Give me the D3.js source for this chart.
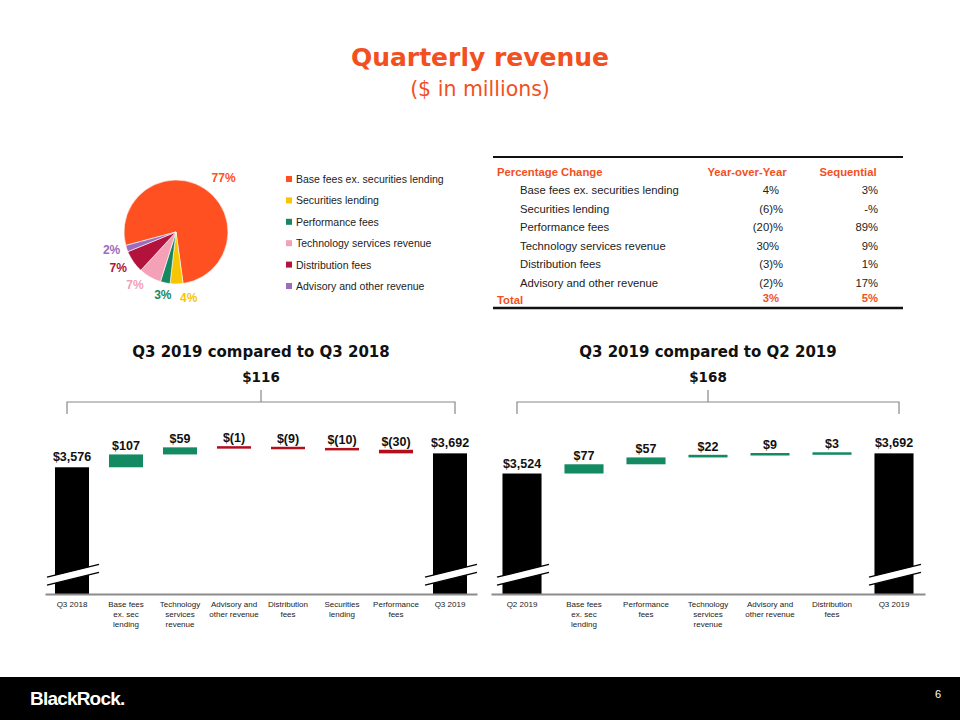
<!DOCTYPE html>
<html>
<head>
<meta charset="utf-8">
<script src="https://cdn.jsdelivr.net/npm/d3@7"></script>
<style>
  html, body { margin: 0; padding: 0; background: #fff; }
  svg { display: block; }
</style>
</head>
<body>
<svg id="chart" width="960" height="720"></svg>
<script>
// ---------------- DATA ----------------
const pieLabels = ["Base fees ex. securities lending", "Securities lending", "Performance fees",
  "Technology services revenue", "Distribution fees", "Advisory and other revenue"];
const pieValues = [77, 4, 3, 7, 7, 2];

const tableRowLabels = ["Base fees ex. securities lending", "Securities lending", "Performance fees",
  "Technology services revenue", "Distribution fees", "Advisory and other revenue"];
const tableYoY = ["4%", "(6)%", "(20)%", "30%", "(3)%", "(2)%"];
const tableSeq = ["3%", "-%", "89%", "9%", "1%", "17%"];
const tableTotalYoY = "3%";
const tableTotalSeq = "5%";

const wf1Categories = [["Q3 2018"], ["Base fees", "ex. sec", "lending"], ["Technology", "services", "revenue"],
  ["Advisory and", "other revenue"], ["Distribution", "fees"], ["Securities", "lending"], ["Performance", "fees"], ["Q3 2019"]];
const wf1Values = [3576, 107, 59, -1, -9, -10, -30, 3692];
const wf1IsTotal = [true, false, false, false, false, false, false, true];
const wf1Change = 116;

const wf2Categories = [["Q2 2019"], ["Base fees", "ex. sec", "lending"], ["Performance", "fees"],
  ["Technology", "services", "revenue"], ["Advisory and", "other revenue"], ["Distribution", "fees"], ["Q3 2019"]];
const wf2Values = [3524, 77, 57, 22, 9, 3, 3692];
const wf2IsTotal = [true, false, false, false, false, false, true];
const wf2Change = 168;

// ---------------- STYLE ----------------
const ORANGE = "#f2501f";
const pieColors = ["#ff5021", "#f7c600", "#17875f", "#f4a0b7", "#b3123c", "#9c6cbd"];
const pieLabelNudge = [[10, 3], [12, -2], [1, -4], [-7, -6], [-2, -3], [0, -4]];
const GREEN = "#138a61";
const RED = "#b10f1c";

const svg = d3.select("#chart");

// Titles
svg.append("text").attr("x", 480).attr("y", 66).attr("text-anchor", "middle")
  .attr("font-family", "DejaVu Sans").attr("font-weight", "bold").attr("font-size", 25)
  .attr("fill", ORANGE).text("Quarterly revenue");
svg.append("text").attr("x", 480).attr("y", 96).attr("text-anchor", "middle")
  .attr("font-family", "DejaVu Sans").attr("font-size", 20.5)
  .attr("fill", ORANGE).text("($ in millions)");

// ---------------- PIE ----------------
const pieG = svg.append("g").attr("transform", "translate(176,232)");
const deg = Math.PI / 180;
const pie = d3.pie().sort(null).value(d => d).startAngle(-105 * deg).endAngle(255 * deg);
const arcs = pie(pieValues);
const arc = d3.arc().innerRadius(0).outerRadius(52);
const labelArc = d3.arc().innerRadius(68).outerRadius(68);
pieG.selectAll("path.slice").data(arcs).enter().append("path")
  .attr("d", arc).attr("fill", (d, i) => pieColors[i])
  .attr("stroke", "#fff").attr("stroke-width", 0.6);
pieG.selectAll("text.plab").data(arcs).enter().append("text")
  .attr("transform", (d, i) => {
    const c = labelArc.centroid(d);
    return `translate(${c[0] + pieLabelNudge[i][0]},${c[1] + pieLabelNudge[i][1]})`;
  })
  .attr("text-anchor", "middle").attr("dominant-baseline", "central")
  .attr("font-family", "Liberation Sans, Arial").attr("font-weight", "bold").attr("font-size", 12)
  .attr("fill", (d, i) => pieColors[i])
  .text(d => d.data + "%");

// legend
const legG = svg.append("g");
const legY = d3.scalePoint().domain(pieLabels).range([179, 286]);
pieLabels.forEach((lab, i) => {
  legG.append("rect").attr("x", 286).attr("y", legY(lab) - 3).attr("width", 6).attr("height", 6)
    .attr("fill", pieColors[i]);
  legG.append("text").attr("x", 296).attr("y", legY(lab)).attr("dominant-baseline", "central")
    .attr("font-family", "Liberation Sans, Arial").attr("font-size", 10.5).attr("fill", "#222").text(lab);
});

// ---------------- TABLE ----------------
const tG = svg.append("g").attr("font-family", "Liberation Sans, Arial").attr("font-size", 11.3);
tG.append("line").attr("x1", 493).attr("x2", 903).attr("y1", 157).attr("y2", 157)
  .attr("stroke", "#111").attr("stroke-width", 2);
tG.append("line").attr("x1", 493).attr("x2", 903).attr("y1", 308).attr("y2", 308)
  .attr("stroke", "#111").attr("stroke-width", 2.5);
const hdr = (x, t, anchor) => tG.append("text").attr("x", x).attr("y", 172).attr("text-anchor", anchor)
  .attr("dominant-baseline", "central").attr("font-weight", "bold").attr("fill", ORANGE).text(t);
hdr(497, "Percentage Change", "start");
hdr(747, "Year-over-Year", "middle");
hdr(848, "Sequential", "middle");
const rowY = d3.scalePoint().domain(d3.range(tableRowLabels.length)).range([190, 283]);
tableRowLabels.forEach((lab, i) => {
  const y = rowY(i);
  tG.append("text").attr("x", 520).attr("y", y).attr("dominant-baseline", "central").attr("fill", "#222").text(lab);
  tG.append("text").attr("x", tableYoY[i].includes(")") ? 783 : 779).attr("y", y).attr("text-anchor", "end")
    .attr("dominant-baseline", "central").attr("fill", "#222").text(tableYoY[i]);
  tG.append("text").attr("x", 878).attr("y", y).attr("text-anchor", "end")
    .attr("dominant-baseline", "central").attr("fill", "#222").text(tableSeq[i]);
});
tG.append("text").attr("x", 497).attr("y", 300).attr("dominant-baseline", "central")
  .attr("font-weight", "bold").attr("fill", ORANGE).text("Total");
tG.append("text").attr("x", 779).attr("y", 298).attr("text-anchor", "end").attr("dominant-baseline", "central")
  .attr("font-weight", "bold").attr("fill", ORANGE).text(tableTotalYoY);
tG.append("text").attr("x", 878).attr("y", 298).attr("text-anchor", "end").attr("dominant-baseline", "central")
  .attr("font-weight", "bold").attr("fill", ORANGE).text(tableTotalSeq);

// ---------------- WATERFALLS ----------------
const yScale = d3.scaleLinear().domain([2520, 3800]).range([594, 594 - 1280 * 0.12]);
const fmt = v => v < 0 ? "$(" + d3.format(",")(-v) + ")" : "$" + d3.format(",")(v);

function waterfall(cats, vals, isTotal, change, range, title) {
  const g = svg.append("g");
  const keys = cats.map((c, i) => i);
  const x = d3.scaleBand().domain(keys).range(range).paddingInner(0.37).paddingOuter(0.185);
  const bw = x.bandwidth();
  let run = 0;
  const bars = vals.map((v, i) => {
    let lo, hi;
    if (isTotal[i]) { lo = yScale.domain()[0]; hi = v; run = v; }
    else { const prev = run; run = run + v; lo = Math.min(prev, run); hi = Math.max(prev, run); }
    return { i, v, lo, hi, total: isTotal[i] };
  });
  const mid = (range[0] + range[1]) / 2;
  // title
  g.append("text").attr("x", mid).attr("y", 357).attr("text-anchor", "middle")
    .attr("font-family", "DejaVu Sans").attr("font-weight", "bold").attr("font-size", 15).attr("fill", "#111").text(title);
  g.append("text").attr("x", mid).attr("y", 382).attr("text-anchor", "middle")
    .attr("font-family", "DejaVu Sans").attr("font-weight", "bold").attr("font-size", 13.5).attr("fill", "#111").text(fmt(change));
  // bracket
  const bx1 = x(0) + bw / 2 - 5, bx2 = x(keys.length - 1) + bw / 2 + 5, bm = (bx1 + bx2) / 2;
  g.append("path").attr("d", `M${bx1},414V402H${bx2}V414M${bm},402V390`)
    .attr("fill", "none").attr("stroke", "#888").attr("stroke-width", 1.2);
  // bars
  g.selectAll("rect.bar").data(bars).enter().append("rect")
    .attr("x", d => x(d.i)).attr("width", bw)
    .attr("y", d => d.total ? yScale(d.hi) : Math.min(yScale(d.hi), (yScale(d.hi) + yScale(d.lo)) / 2 - 1.25))
    .attr("height", d => d.total ? yScale(d.lo) - yScale(d.hi) : Math.max(2.5, yScale(d.lo) - yScale(d.hi)))
    .attr("fill", d => d.total ? "#000" : (d.v >= 0 ? GREEN : RED));
  // value labels
  g.selectAll("text.val").data(bars).enter().append("text")
    .attr("x", d => x(d.i) + bw / 2)
    .attr("y", d => Math.min(yScale(d.hi), (yScale(d.hi) + yScale(d.lo)) / 2 - 1.25) - (d.total ? 6 : 4))
    .attr("text-anchor", "middle").attr("font-family", "Liberation Sans, Arial").attr("font-weight", "bold")
    .attr("font-size", 12.5).attr("fill", "#111").text(d => fmt(d.v));
  // break marks on total bars
  bars.filter(d => d.total).forEach(d => {
    const cx = x(d.i) + bw / 2;
    const xa = cx - 25, xb = cx + 27, s = -0.245;
    const yu = xx => 571 + (xx - cx) * s, yl = xx => 579 + (xx - cx) * s;
    g.append("path").attr("d", `M${xa},${yu(xa)}L${xb},${yu(xb)}L${xb},${yl(xb)}L${xa},${yl(xa)}Z`).attr("fill", "#fff");
    g.append("line").attr("x1", xa).attr("y1", yu(xa)).attr("x2", xb).attr("y2", yu(xb)).attr("stroke", "#000").attr("stroke-width", 1.5);
    g.append("line").attr("x1", xa).attr("y1", yl(xa)).attr("x2", xb).attr("y2", yl(xb)).attr("stroke", "#000").attr("stroke-width", 1.5);
  });
  // axis
  const axis = d3.axisBottom(x).tickSize(0).tickFormat("");
  const ag = g.append("g").attr("transform", "translate(0,594)").call(axis);
  ag.select(".domain").attr("stroke", "#8c8c8c").attr("stroke-width", 2);
  keys.forEach(k => {
    const t = g.append("text").attr("text-anchor", "middle").attr("font-family", "Liberation Sans, Arial")
      .attr("font-size", 8).attr("fill", "#222");
    cats[k].forEach((line, j) => {
      t.append("tspan").attr("x", x(k) + bw / 2).attr("y", 607 + j * 10).text(line);
    });
  });
}

waterfall(wf1Categories, wf1Values, wf1IsTotal, wf1Change, [45, 477], "Q3 2019 compared to Q3 2018");
waterfall(wf2Categories, wf2Values, wf2IsTotal, wf2Change, [491, 925], "Q3 2019 compared to Q2 2019");

// ---------------- FOOTER ----------------
svg.append("rect").attr("x", 0).attr("y", 677).attr("width", 960).attr("height", 43).attr("fill", "#000");
svg.append("text").attr("x", 30).attr("y", 705).attr("font-family", "Liberation Sans, Arial")
  .attr("font-weight", "bold").attr("font-size", 19).attr("letter-spacing", -0.8).attr("fill", "#fff").text("BlackRock.");
svg.append("text").attr("x", 938).attr("y", 698).attr("text-anchor", "middle").attr("font-family", "Liberation Sans, Arial")
  .attr("font-size", 11).attr("fill", "#fff").text("6");
</script>
</body>
</html>
